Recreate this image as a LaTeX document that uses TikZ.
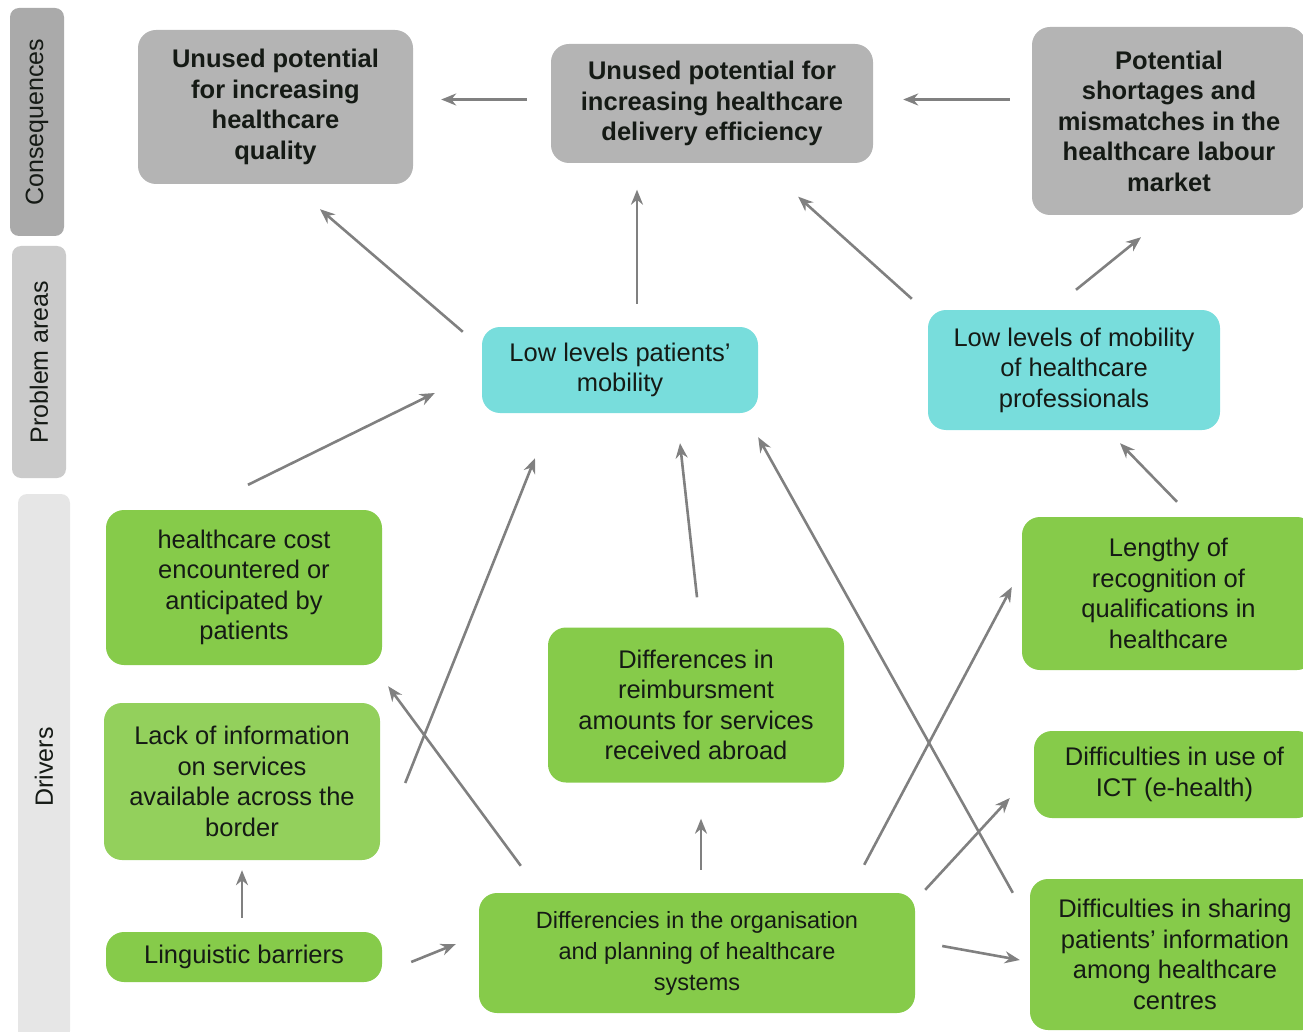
\documentclass[tikz,border=0pt]{standalone}
\usepackage{fontspec}
\setmainfont{Liberation Sans}
\usetikzlibrary{arrows.meta}

\definecolor{consgray}{HTML}{B4B4B4}
\definecolor{probcyan}{HTML}{78DDDC}
\definecolor{drivgreen}{HTML}{86CB4A}
\definecolor{drivlight}{HTML}{93D05C}
\definecolor{sidecons}{HTML}{AAAAAA}
\definecolor{sideprob}{HTML}{CBCBCB}
\definecolor{sidedriv}{HTML}{E6E6E6}
\definecolor{textdark}{HTML}{151A15}
\definecolor{arrgray}{HTML}{808080}

\tikzset{
  basebox/.style={rectangle, rounded corners=18pt, inner sep=0pt, align=center,
    text=textdark, font=\fontsize{25.5}{30.5}\selectfont},
  conbox/.style={basebox, fill=consgray, font=\fontsize{25.5}{30.5}\selectfont\bfseries},
  probbox/.style={basebox, fill=probcyan},
  drvbox/.style={basebox, fill=drivgreen},
  sidebox/.style={rectangle, rounded corners=9pt, rotate=90, inner sep=0pt,
    text=textdark, font=\fontsize{25}{30}\selectfont},
  arr/.style={draw=arrgray, line width=2.6pt, -{Stealth[length=15pt,width=12pt]}},
}

\begin{document}
\begin{tikzpicture}[x=1pt,y=-1pt]
  \useasboundingbox (0,0) rectangle (1303,1032);

  % side bands
  \node[sidebox, fill=sidecons, minimum width=228pt, minimum height=54pt] (sc) at (37,122) {Consequences};
  \node[sidebox, fill=sideprob, minimum width=232pt, minimum height=54pt] (sp) at (39,362) {Problem areas};
  \node[sidebox, fill=sidedriv, minimum width=546pt, minimum height=52pt] (sd) at (44,767) {Drivers};

  % consequences
  \node[conbox, minimum width=275pt, minimum height=154pt] (c1) at (275.5,107)
    {Unused potential\\for increasing\\healthcare\\quality};
  \node[conbox, minimum width=322pt, minimum height=119pt] (c2) at (712,103.5)
    {Unused potential for\\increasing healthcare\\delivery efficiency};
  \node[conbox, minimum width=274pt, minimum height=188pt] (c3) at (1169,121)
    {Potential\\shortages and\\mismatches in the\\healthcare labour\\market};

  % problem areas
  \node[probbox, minimum width=276pt, minimum height=86pt] (p1) at (620,370)
    {Low levels patients'\\mobility};
  \node[probbox, minimum width=292pt, minimum height=120pt] (p2) at (1074,370)
    {Low levels of mobility\\of healthcare\\professionals};

  % drivers
  \node[drvbox, minimum width=276pt, minimum height=155pt] (d1) at (244,587.5)
    {healthcare cost\\encountered or\\anticipated by\\patients};
  \node[drvbox, fill=drivlight, minimum width=276pt, minimum height=157pt] (d2) at (242,781.5)
    {Lack of information\\on services\\available across the\\border};
  \node[drvbox, minimum width=276pt, minimum height=50pt] (d3) at (244,957)
    {Linguistic barriers};
  \node[drvbox, minimum width=296pt, minimum height=155pt] (d4) at (696,705)
    {Differences in\\reimbursment\\amounts for services\\received abroad};
  \node[drvbox, minimum width=436pt, minimum height=120pt, font=\fontsize{23.5}{31}\selectfont] (d5) at (697,953)
    {Differencies in the organisation\\and planning of healthcare\\systems};
  \node[drvbox, minimum width=293pt, minimum height=153pt] (d6) at (1168.5,593.5)
    {Lengthy of\\recognition of\\qualifications in\\healthcare};
  \node[drvbox, minimum width=281pt, minimum height=87pt] (d7) at (1174.5,774.5)
    {Difficulties in use of\\ICT (e-health)};
  \node[drvbox, minimum width=290pt, minimum height=151pt] (d8) at (1175,954.5)
    {Difficulties in sharing\\patients' information\\among healthcare\\centres};

  % consequences chain
  \draw[arr] ([shift={(-24,-4)}]c2.west) -- ([shift={(28,-4)}]c2.west -| c1.east);
  \draw[arr] ([shift={(-22,-4)}]c3.west |- c2.east) -- ([shift={(30,-4)}]c2.east);

  % problem areas -> consequences
  \draw[arr] ([shift={(-19,5)}]p1.north west) -- ([shift={(44.5,25)}]c1.south);
  \draw[arr] ([shift={(17,-23)}]p1.north) -- ([shift={(-75,26.5)}]c2.south);
  \draw[arr] ([shift={(-16,-11)}]p2.north west) -- ([shift={(-75,33.5)}]c2.south east);
  \draw[arr] ([shift={(2,-20)}]p2.north) -- ([shift={(-28,22)}]c3.south);

  % drivers -> problem areas
  \draw[arr] ([shift={(4,-25)}]d1.north) -- ([shift={(-47,23)}]p1.west);
  \draw[arr] ([shift={(25,1.5)}]d2.east) -- ([shift={(-85,45)}]p1.south);
  \draw[arr] ([shift={(1,-30)}]d4.north) -- ([shift={(60,30)}]p1.south);
  \draw[arr] ([shift={(-17,14)}]d8.north west) -- ([shift={(0,24)}]p1.south east);
  \draw[arr] ([shift={(8.5,-15)}]d6.north) -- ([shift={(46,13)}]p2.south);

  % drivers -> drivers
  \draw[arr] ([shift={(42,-27)}]d5.north west) -- ([shift={(6,21)}]d1.south east);
  \draw[arr] ([shift={(4,-23)}]d5.north) -- ([shift={(5,36)}]d4.south);
  \draw[arr] ([shift={(-51,-28)}]d5.north east) -- ([shift={(-10,-6.5)}]d6.west);
  \draw[arr] ([shift={(10,-3)}]d5.north east) -- ([shift={(-24,23.5)}]d7.west);
  \draw[arr] ([shift={(27,-7)}]d5.east) -- ([shift={(-10,5.5)}]d8.west);
  \draw[arr] ([shift={(-2,-14)}]d3.north) -- ([shift={(0,10)}]d2.south);
  \draw[arr] ([shift={(29,5)}]d3.east) -- ([shift={(-23,-9)}]d5.west);

\end{tikzpicture}
\end{document}
